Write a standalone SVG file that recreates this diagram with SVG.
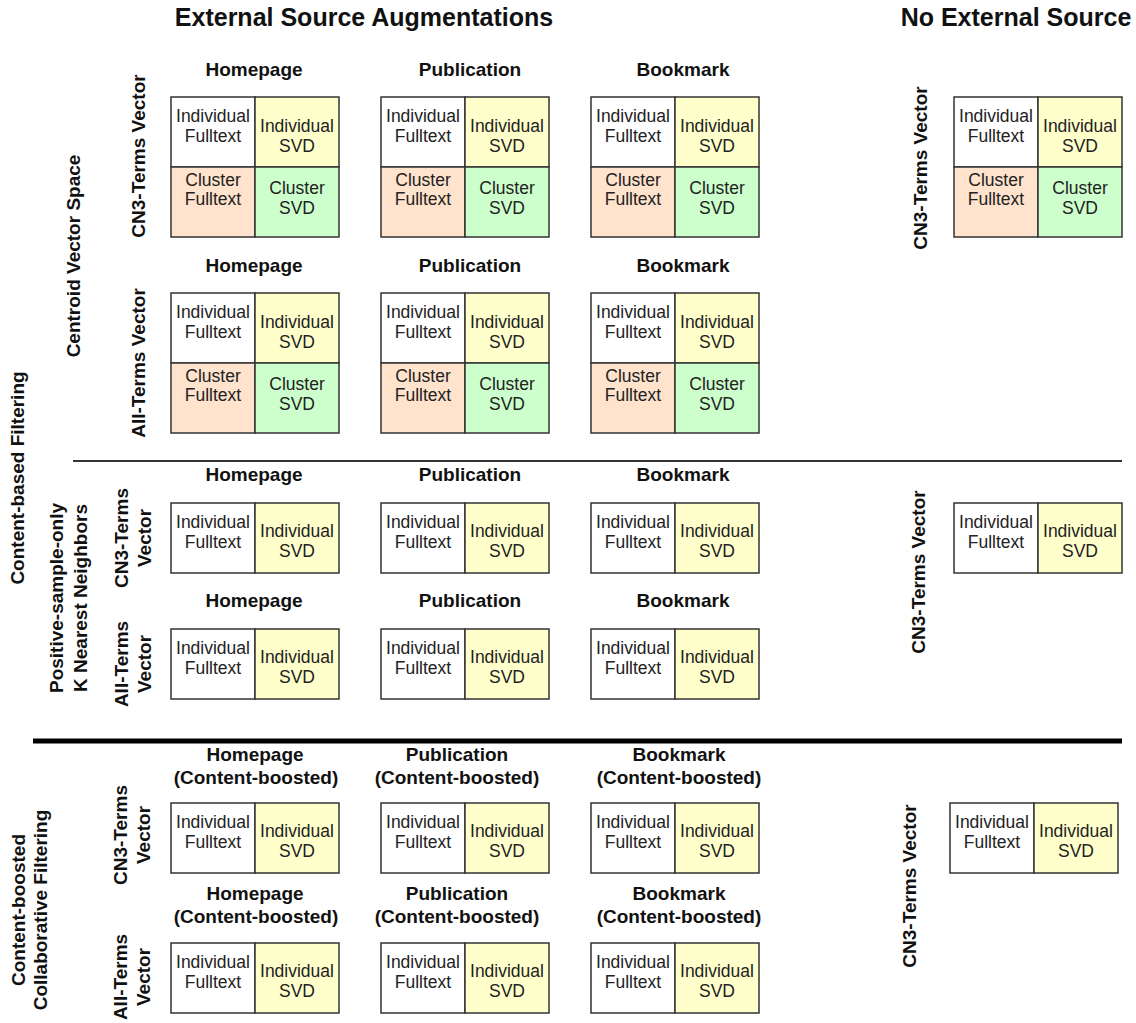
<svg xmlns="http://www.w3.org/2000/svg" width="1136" height="1023" viewBox="0 0 1136 1023">
  <style>
    .c { stroke: #333; stroke-width: 1.5; }
    .w { fill: #ffffff; }
    .y { fill: #ffffcc; }
    .p { fill: #ffe3cc; }
    .g { fill: #ccffcc; }
    .t { font-family: "Liberation Sans", Arial, sans-serif; font-size: 17.5px; fill: #222; text-anchor: middle; }
    .h { font-family: "Liberation Sans", Arial, sans-serif; font-size: 19px; font-weight: bold; fill: #111; text-anchor: middle; }
    .s { font-family: "Liberation Sans", Arial, sans-serif; font-size: 19px; font-weight: bold; fill: #111; text-anchor: middle; }
    .title { font-family: "Liberation Sans", Arial, sans-serif; font-size: 25px; font-weight: bold; fill: #111; text-anchor: middle; }
  </style>

  <!-- column titles -->
  <text class="title" x="364" y="26">External Source Augmentations</text>
  <text class="title" x="1016" y="26">No External Source</text>

  <!-- row/section labels (rotated) -->
  <g id="side-labels">
    <text class="s" transform="translate(24,478) rotate(-90)">Content-based Filtering</text>
    <text class="s" transform="translate(80,256) rotate(-90)">Centroid Vector Space</text>
    <text class="s" transform="translate(145,156) rotate(-90)">CN3-Terms Vector</text>
    <text class="s" transform="translate(145,363) rotate(-90)">All-Terms Vector</text>
    <text class="s" transform="translate(63,598) rotate(-90)">Positive-sample-only</text>
    <text class="s" transform="translate(87,598) rotate(-90)">K Nearest Neighbors</text>
    <text class="s" transform="translate(128,538) rotate(-90)">CN3-Terms</text>
    <text class="s" transform="translate(151,538) rotate(-90)">Vector</text>
    <text class="s" transform="translate(128,664) rotate(-90)">All-Terms</text>
    <text class="s" transform="translate(151,664) rotate(-90)">Vector</text>
    <text class="s" transform="translate(25,910) rotate(-90)">Content-boosted</text>
    <text class="s" transform="translate(47,910) rotate(-90)">Collaborative Filtering</text>
    <text class="s" transform="translate(127,835) rotate(-90)">CN3-Terms</text>
    <text class="s" transform="translate(150,835) rotate(-90)">Vector</text>
    <text class="s" transform="translate(127,977) rotate(-90)">All-Terms</text>
    <text class="s" transform="translate(150,977) rotate(-90)">Vector</text>
    <text class="s" transform="translate(927,168) rotate(-90)">CN3-Terms Vector</text>
    <text class="s" transform="translate(925,572) rotate(-90)">CN3-Terms Vector</text>
    <text class="s" transform="translate(916,886) rotate(-90)">CN3-Terms Vector</text>
  </g>

  <!-- block headers -->
  <g id="headers">
    <text class="h" x="254" y="76">Homepage</text>
    <text class="h" x="470" y="76">Publication</text>
    <text class="h" x="683" y="76">Bookmark</text>
    <text class="h" x="254" y="272">Homepage</text>
    <text class="h" x="470" y="272">Publication</text>
    <text class="h" x="683" y="272">Bookmark</text>
    <text class="h" x="254" y="481">Homepage</text>
    <text class="h" x="470" y="481">Publication</text>
    <text class="h" x="683" y="481">Bookmark</text>
    <text class="h" x="254" y="607">Homepage</text>
    <text class="h" x="470" y="607">Publication</text>
    <text class="h" x="683" y="607">Bookmark</text>
    <text class="h" x="255" y="761">Homepage</text>
    <text class="h" x="256" y="784">(Content-boosted)</text>
    <text class="h" x="457" y="761">Publication</text>
    <text class="h" x="457" y="784">(Content-boosted)</text>
    <text class="h" x="679" y="761">Bookmark</text>
    <text class="h" x="679" y="784">(Content-boosted)</text>
    <text class="h" x="255" y="900">Homepage</text>
    <text class="h" x="256" y="923">(Content-boosted)</text>
    <text class="h" x="457" y="900">Publication</text>
    <text class="h" x="457" y="923">(Content-boosted)</text>
    <text class="h" x="679" y="900">Bookmark</text>
    <text class="h" x="679" y="923">(Content-boosted)</text>
  </g>

  <!-- section dividers -->
  <g id="connectors">
    <line x1="73" y1="461" x2="1122" y2="461" stroke="#333" stroke-width="2"/>
    <line x1="33" y1="741" x2="1122" y2="741" stroke="#000" stroke-width="5"/>
  </g>

  <!-- centroid, CN3-terms: four-cell grids -->
  <g id="centroid-cn3-homepage" transform="translate(171,97)">
    <rect class="c w" x="0" y="0" width="84" height="70"/><rect class="c y" x="84" y="0" width="84" height="70"/>
    <rect class="c p" x="0" y="70" width="84" height="70"/><rect class="c g" x="84" y="70" width="84" height="70"/>
    <text class="t" x="42" y="25">Individual</text><text class="t" x="42" y="45">Fulltext</text>
    <text class="t" x="126" y="35">Individual</text><text class="t" x="126" y="55">SVD</text>
    <text class="t" x="42" y="89">Cluster</text><text class="t" x="42" y="108">Fulltext</text>
    <text class="t" x="126" y="97">Cluster</text><text class="t" x="126" y="117">SVD</text>
  </g>
  <g id="centroid-cn3-publication" transform="translate(381,97)">
    <rect class="c w" x="0" y="0" width="84" height="70"/><rect class="c y" x="84" y="0" width="84" height="70"/>
    <rect class="c p" x="0" y="70" width="84" height="70"/><rect class="c g" x="84" y="70" width="84" height="70"/>
    <text class="t" x="42" y="25">Individual</text><text class="t" x="42" y="45">Fulltext</text>
    <text class="t" x="126" y="35">Individual</text><text class="t" x="126" y="55">SVD</text>
    <text class="t" x="42" y="89">Cluster</text><text class="t" x="42" y="108">Fulltext</text>
    <text class="t" x="126" y="97">Cluster</text><text class="t" x="126" y="117">SVD</text>
  </g>
  <g id="centroid-cn3-bookmark" transform="translate(591,97)">
    <rect class="c w" x="0" y="0" width="84" height="70"/><rect class="c y" x="84" y="0" width="84" height="70"/>
    <rect class="c p" x="0" y="70" width="84" height="70"/><rect class="c g" x="84" y="70" width="84" height="70"/>
    <text class="t" x="42" y="25">Individual</text><text class="t" x="42" y="45">Fulltext</text>
    <text class="t" x="126" y="35">Individual</text><text class="t" x="126" y="55">SVD</text>
    <text class="t" x="42" y="89">Cluster</text><text class="t" x="42" y="108">Fulltext</text>
    <text class="t" x="126" y="97">Cluster</text><text class="t" x="126" y="117">SVD</text>
  </g>
  <g id="centroid-cn3-none" transform="translate(954,97)">
    <rect class="c w" x="0" y="0" width="84" height="70"/><rect class="c y" x="84" y="0" width="84" height="70"/>
    <rect class="c p" x="0" y="70" width="84" height="70"/><rect class="c g" x="84" y="70" width="84" height="70"/>
    <text class="t" x="42" y="25">Individual</text><text class="t" x="42" y="45">Fulltext</text>
    <text class="t" x="126" y="35">Individual</text><text class="t" x="126" y="55">SVD</text>
    <text class="t" x="42" y="89">Cluster</text><text class="t" x="42" y="108">Fulltext</text>
    <text class="t" x="126" y="97">Cluster</text><text class="t" x="126" y="117">SVD</text>
  </g>

  <!-- centroid, all-terms: four-cell grids -->
  <g id="centroid-all-homepage" transform="translate(171,293)">
    <rect class="c w" x="0" y="0" width="84" height="70"/><rect class="c y" x="84" y="0" width="84" height="70"/>
    <rect class="c p" x="0" y="70" width="84" height="70"/><rect class="c g" x="84" y="70" width="84" height="70"/>
    <text class="t" x="42" y="25">Individual</text><text class="t" x="42" y="45">Fulltext</text>
    <text class="t" x="126" y="35">Individual</text><text class="t" x="126" y="55">SVD</text>
    <text class="t" x="42" y="89">Cluster</text><text class="t" x="42" y="108">Fulltext</text>
    <text class="t" x="126" y="97">Cluster</text><text class="t" x="126" y="117">SVD</text>
  </g>
  <g id="centroid-all-publication" transform="translate(381,293)">
    <rect class="c w" x="0" y="0" width="84" height="70"/><rect class="c y" x="84" y="0" width="84" height="70"/>
    <rect class="c p" x="0" y="70" width="84" height="70"/><rect class="c g" x="84" y="70" width="84" height="70"/>
    <text class="t" x="42" y="25">Individual</text><text class="t" x="42" y="45">Fulltext</text>
    <text class="t" x="126" y="35">Individual</text><text class="t" x="126" y="55">SVD</text>
    <text class="t" x="42" y="89">Cluster</text><text class="t" x="42" y="108">Fulltext</text>
    <text class="t" x="126" y="97">Cluster</text><text class="t" x="126" y="117">SVD</text>
  </g>
  <g id="centroid-all-bookmark" transform="translate(591,293)">
    <rect class="c w" x="0" y="0" width="84" height="70"/><rect class="c y" x="84" y="0" width="84" height="70"/>
    <rect class="c p" x="0" y="70" width="84" height="70"/><rect class="c g" x="84" y="70" width="84" height="70"/>
    <text class="t" x="42" y="25">Individual</text><text class="t" x="42" y="45">Fulltext</text>
    <text class="t" x="126" y="35">Individual</text><text class="t" x="126" y="55">SVD</text>
    <text class="t" x="42" y="89">Cluster</text><text class="t" x="42" y="108">Fulltext</text>
    <text class="t" x="126" y="97">Cluster</text><text class="t" x="126" y="117">SVD</text>
  </g>

  <!-- kNN, CN3-terms: two-cell grids -->
  <g id="knn-cn3-homepage" transform="translate(171,503)">
    <rect class="c w" x="0" y="0" width="84" height="70"/><rect class="c y" x="84" y="0" width="84" height="70"/>
    <text class="t" x="42" y="25">Individual</text><text class="t" x="42" y="45">Fulltext</text>
    <text class="t" x="126" y="34">Individual</text><text class="t" x="126" y="54">SVD</text>
  </g>
  <g id="knn-cn3-publication" transform="translate(381,503)">
    <rect class="c w" x="0" y="0" width="84" height="70"/><rect class="c y" x="84" y="0" width="84" height="70"/>
    <text class="t" x="42" y="25">Individual</text><text class="t" x="42" y="45">Fulltext</text>
    <text class="t" x="126" y="34">Individual</text><text class="t" x="126" y="54">SVD</text>
  </g>
  <g id="knn-cn3-bookmark" transform="translate(591,503)">
    <rect class="c w" x="0" y="0" width="84" height="70"/><rect class="c y" x="84" y="0" width="84" height="70"/>
    <text class="t" x="42" y="25">Individual</text><text class="t" x="42" y="45">Fulltext</text>
    <text class="t" x="126" y="34">Individual</text><text class="t" x="126" y="54">SVD</text>
  </g>
  <g id="knn-cn3-none" transform="translate(954,503)">
    <rect class="c w" x="0" y="0" width="84" height="70"/><rect class="c y" x="84" y="0" width="84" height="70"/>
    <text class="t" x="42" y="25">Individual</text><text class="t" x="42" y="45">Fulltext</text>
    <text class="t" x="126" y="34">Individual</text><text class="t" x="126" y="54">SVD</text>
  </g>

  <!-- kNN, all-terms -->
  <g id="knn-all-homepage" transform="translate(171,629)">
    <rect class="c w" x="0" y="0" width="84" height="70"/><rect class="c y" x="84" y="0" width="84" height="70"/>
    <text class="t" x="42" y="25">Individual</text><text class="t" x="42" y="45">Fulltext</text>
    <text class="t" x="126" y="34">Individual</text><text class="t" x="126" y="54">SVD</text>
  </g>
  <g id="knn-all-publication" transform="translate(381,629)">
    <rect class="c w" x="0" y="0" width="84" height="70"/><rect class="c y" x="84" y="0" width="84" height="70"/>
    <text class="t" x="42" y="25">Individual</text><text class="t" x="42" y="45">Fulltext</text>
    <text class="t" x="126" y="34">Individual</text><text class="t" x="126" y="54">SVD</text>
  </g>
  <g id="knn-all-bookmark" transform="translate(591,629)">
    <rect class="c w" x="0" y="0" width="84" height="70"/><rect class="c y" x="84" y="0" width="84" height="70"/>
    <text class="t" x="42" y="25">Individual</text><text class="t" x="42" y="45">Fulltext</text>
    <text class="t" x="126" y="34">Individual</text><text class="t" x="126" y="54">SVD</text>
  </g>

  <!-- content-boosted CF, CN3-terms -->
  <g id="cbcf-cn3-homepage" transform="translate(171,803)">
    <rect class="c w" x="0" y="0" width="84" height="70"/><rect class="c y" x="84" y="0" width="84" height="70"/>
    <text class="t" x="42" y="25">Individual</text><text class="t" x="42" y="45">Fulltext</text>
    <text class="t" x="126" y="34">Individual</text><text class="t" x="126" y="54">SVD</text>
  </g>
  <g id="cbcf-cn3-publication" transform="translate(381,803)">
    <rect class="c w" x="0" y="0" width="84" height="70"/><rect class="c y" x="84" y="0" width="84" height="70"/>
    <text class="t" x="42" y="25">Individual</text><text class="t" x="42" y="45">Fulltext</text>
    <text class="t" x="126" y="34">Individual</text><text class="t" x="126" y="54">SVD</text>
  </g>
  <g id="cbcf-cn3-bookmark" transform="translate(591,803)">
    <rect class="c w" x="0" y="0" width="84" height="70"/><rect class="c y" x="84" y="0" width="84" height="70"/>
    <text class="t" x="42" y="25">Individual</text><text class="t" x="42" y="45">Fulltext</text>
    <text class="t" x="126" y="34">Individual</text><text class="t" x="126" y="54">SVD</text>
  </g>
  <g id="cbcf-cn3-none" transform="translate(950,803)">
    <rect class="c w" x="0" y="0" width="84" height="70"/><rect class="c y" x="84" y="0" width="84" height="70"/>
    <text class="t" x="42" y="25">Individual</text><text class="t" x="42" y="45">Fulltext</text>
    <text class="t" x="126" y="34">Individual</text><text class="t" x="126" y="54">SVD</text>
  </g>

  <!-- content-boosted CF, all-terms -->
  <g id="cbcf-all-homepage" transform="translate(171,943)">
    <rect class="c w" x="0" y="0" width="84" height="70"/><rect class="c y" x="84" y="0" width="84" height="70"/>
    <text class="t" x="42" y="25">Individual</text><text class="t" x="42" y="45">Fulltext</text>
    <text class="t" x="126" y="34">Individual</text><text class="t" x="126" y="54">SVD</text>
  </g>
  <g id="cbcf-all-publication" transform="translate(381,943)">
    <rect class="c w" x="0" y="0" width="84" height="70"/><rect class="c y" x="84" y="0" width="84" height="70"/>
    <text class="t" x="42" y="25">Individual</text><text class="t" x="42" y="45">Fulltext</text>
    <text class="t" x="126" y="34">Individual</text><text class="t" x="126" y="54">SVD</text>
  </g>
  <g id="cbcf-all-bookmark" transform="translate(591,943)">
    <rect class="c w" x="0" y="0" width="84" height="70"/><rect class="c y" x="84" y="0" width="84" height="70"/>
    <text class="t" x="42" y="25">Individual</text><text class="t" x="42" y="45">Fulltext</text>
    <text class="t" x="126" y="34">Individual</text><text class="t" x="126" y="54">SVD</text>
  </g>
</svg>
